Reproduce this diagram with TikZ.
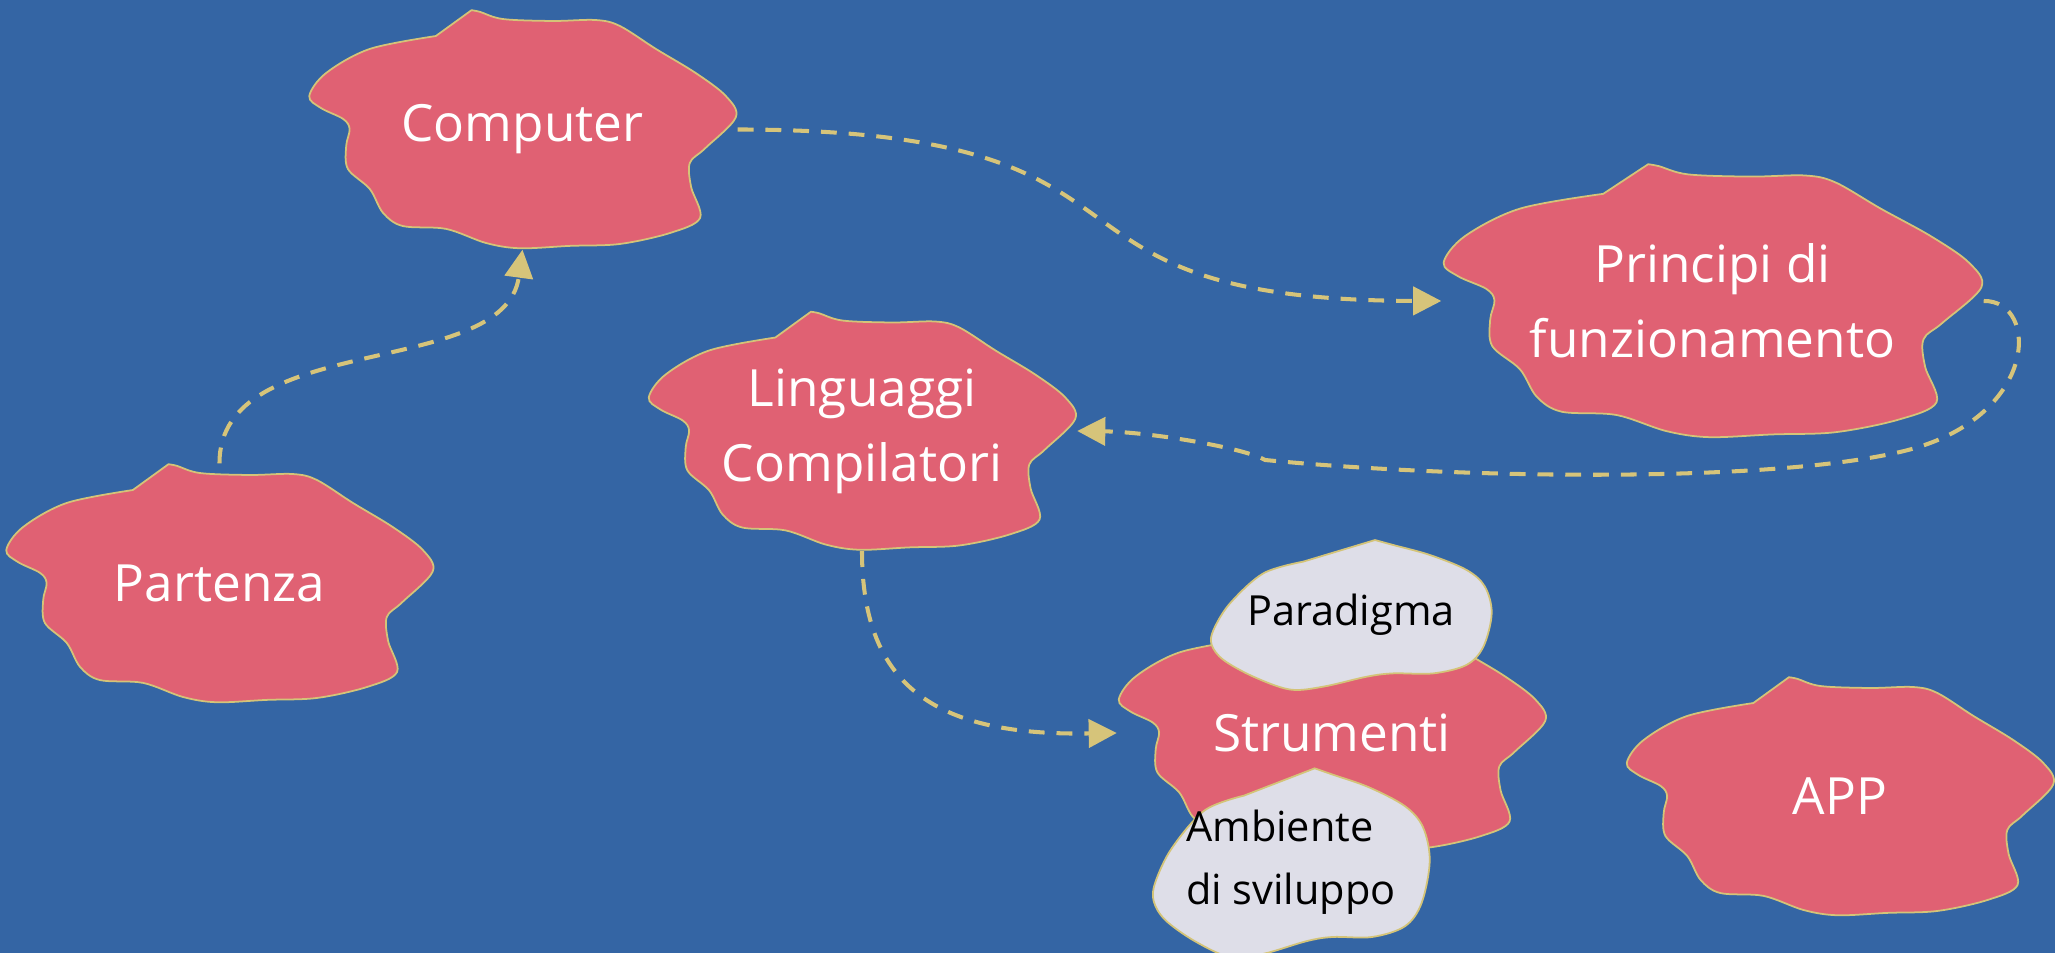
\documentclass[tikz,border=0pt]{standalone}
\usepackage{fontspec}
\setmainfont{Open Sans}
\usetikzlibrary{arrows.meta}

\definecolor{bgblue}{HTML}{3465A4}
\definecolor{blobred}{HTML}{E06173}
\definecolor{blobgrey}{HTML}{DEDEE8}
\definecolor{rim}{HTML}{D4C478}
\definecolor{linkcol}{HTML}{D6C47A}

\tikzset{
	redtext/.style={inner sep=0pt, align=center, text=white, font=\fontsize{14.6pt}{21.3pt}\selectfont},
	greytext/.style={inner sep=0pt, text=black, font=\fontsize{11.8pt}{17.9pt}\selectfont},
	blobrim/.style={draw=rim, line width=0.5pt},
	link/.style={draw=linkcol, line width=1.15pt, dash pattern=on 4.5pt off 3.4pt, -{Triangle[length=8pt, width=8pt]}},
}

% blob outlines, #1,#2 = top left corner (px), #3,#4 = width, height
\newcommand\redblob[4]{%
	\filldraw[blobrim, fill=blobred, shift={(#1,#2)}, x=#3, y=-#4]
		(0.381,0.001) -- (0.298,0.109) -- plot[smooth, tension=0.55] coordinates {(0.298,0.109) (0.144,0.163) (0.042,0.264) (0.003,0.360) (0.030,0.410) (0.082,0.456) (0.097,0.498) (0.089,0.569) (0.093,0.665) (0.144,0.749) (0.175,0.849) (0.221,0.904) (0.322,0.916) (0.415,0.975) (0.494,0.997) (0.611,0.987) (0.727,0.979) (0.844,0.933) (0.914,0.870) (0.893,0.740) (0.890,0.640) (0.925,0.580) (0.997,0.450) (0.974,0.360) (0.904,0.264) (0.811,0.163) (0.727,0.067) (0.671,0.042) (0.571,0.046) (0.455,0.038) (0.401,0.008) (0.381,0.001)} -- cycle;}
\newcommand\greyblob[4]{%
	\filldraw[blobrim, fill=blobgrey, shift={(#1,#2)}, x=#3, y=-#4]
		(0.584,0.007) -- (0.333,0.150) -- plot[smooth, tension=0.55] coordinates {(0.333,0.150) (0.194,0.227) (0.077,0.426) (0.019,0.603) (0.013,0.702) (0.054,0.801) (0.159,0.912) (0.287,0.997) (0.403,0.978) (0.555,0.912) (0.648,0.890) (0.788,0.890) (0.904,0.834) (0.963,0.713) (0.992,0.492) (0.968,0.315) (0.904,0.205) (0.776,0.106) (0.648,0.040) (0.584,0.007)} -- cycle;}

\begin{document}
\begin{tikzpicture}[x=0.1mm, y=-0.1mm]
	\def\bw{4.29cm}
	\def\bh{2.39cm}

	\path[use as bounding box, fill=bgblue] (0,0) rectangle (2055,953);
	\clip (0,0) rectangle (2055,953);

	% red blobs
	\redblob{308}{10}{\bw}{\bh}
	\node[redtext, minimum width=\bw, minimum height=\bh] (computer) at (522.5,129.5) {Computer};
	\redblob{5}{464}{\bw}{\bh}
	\node[redtext, minimum width=\bw, minimum height=\bh] (partenza) at (219.5,583.5) {Partenza};
	\redblob{647.5}{311.5}{\bw}{\bh}
	\node[redtext, minimum width=\bw, minimum height=\bh] (linguaggi) at (862,431) {Linguaggi\\Compilatori};
	\redblob{1442}{164}{5.41cm}{2.74cm}
	\node[redtext, minimum width=5.41cm, minimum height=2.74cm] (principi) at (1712.5,301) {Principi di\\funzionamento};
	\redblob{1117.5}{613.5}{\bw}{\bh}
	\node[redtext, minimum width=\bw, minimum height=\bh] (strumenti) at (1332,733) {Strumenti};
	\redblob{1625.5}{677}{\bw}{\bh}
	\node[redtext, minimum width=\bw, minimum height=\bh] (app) at (1840,796.5) {APP};

	% grey clouds
	\greyblob{1208}{539}{2.86cm}{1.51cm}
	\node[greytext, minimum width=2.86cm, minimum height=1.51cm] (paradigma) at (1351,614.5) {Paradigma};
	\greyblob{1150}{767}{2.82cm}{1.91cm}
	\node[greytext, align=left, minimum width=2.82cm, minimum height=1.91cm] (ambiente) at (1291,862.5) {Ambiente\\di sviluppo};

	% links
	\draw[link] (partenza.north) .. controls (219,330) and (505,380) .. (computer.south);
	\draw[link] (computer.east) .. controls (1200,130) and (1000,300) .. (principi.west);
	\draw[link] (principi.east) .. controls (2040,300) and (2040,420) .. (1900,452)
		.. controls (1760,484) and (1450,478) .. (1265,460)
		.. controls (1245,448) and (1150,432) .. (linguaggi.east);
	\draw[link] (linguaggi.south) .. controls (862,690) and (940,736) .. (strumenti.west);
\end{tikzpicture}
\end{document}
